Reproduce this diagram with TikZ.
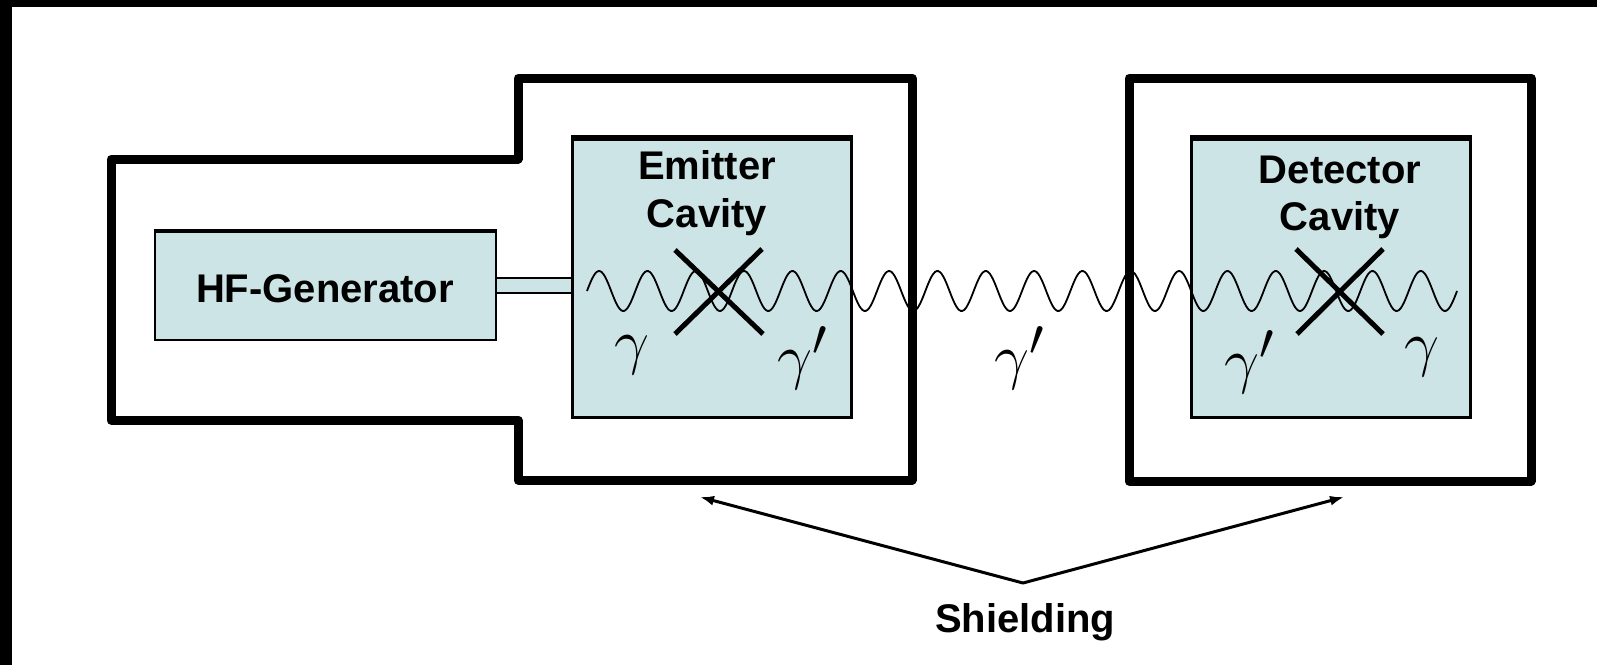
\documentclass[tikz,border=0pt]{standalone}
\usepackage{fontspec}
\setmainfont{Liberation Sans}
\usetikzlibrary{calc,arrows.meta}
\definecolor{cavblue}{RGB}{205,228,230}
\begin{document}
\begin{tikzpicture}[x=1pt,y=-1pt,
  shieldline/.style={line width=9pt, line join=round},
  cavbox/.style={draw=black, fill=cavblue, line width=2.5pt, inner sep=0pt},
  lbl/.style={font=\bfseries\fontsize{40}{48}\selectfont, anchor=base, inner sep=0pt},
  greek/.style={font=\Huge, scale=2.5, inner sep=0pt},
  xline/.style={line width=5pt},
  wavy/.style={line width=1.8pt},
  pointer/.style={line width=3pt, line cap=round, -{Latex[length=14pt,width=10pt]}}]
\useasboundingbox (0,0) rectangle (1597,665);
\fill[white] (0,0) rectangle (1597,665);
\fill[black] (0,0) rectangle (12,665);
\fill[black] (0,0) rectangle (1597,7);

% shields
\draw[shieldline] (111,159) -- (518,159) -- (518,78) -- (912,78) -- (912,480) -- (518,480) -- (518,420) -- (111,420) -- cycle;
\draw[shieldline] (1129,78) rectangle (1531,481);

% boxes
\node[cavbox, minimum width=341, minimum height=109] (hf) at (325.5,285.5) {};
\node[cavbox, minimum width=279, minimum height=280] (emit) at (712,277.5) {};
\node[cavbox, minimum width=279, minimum height=280] (det) at (1331,277.5) {};
\draw[line width=4pt] ([yshift=-0.75pt]hf.north west) -- ([yshift=-0.75pt]hf.north east);
\draw[line width=6pt] ([yshift=-1.75pt]emit.north west) -- ([yshift=-1.75pt]emit.north east);
\draw[line width=6pt] ([yshift=-1.75pt]det.north west) -- ([yshift=-1.75pt]det.north east);

% feed tube
\fill[cavblue] ($(hf.east)+(0,-7.5)$) rectangle ($(hf.east -| emit.west)+(0,7.5)$);
\draw[line width=2.5pt] ($(hf.east)+(0,-7.5)$) -- ($(hf.east -| emit.west)+(0,-7.5)$);
\draw[line width=2.5pt] ($(hf.east)+(0,7.5)$) -- ($(hf.east -| emit.west)+(0,7.5)$);

% wave
\draw[wavy] plot[domain=0:6480, samples=541, smooth] ({587+\x*0.1342593}, {291-20*sin(\x)});

% crosses
\draw[xline] (675,250) -- (763,334);
\draw[xline] (762,249) -- (675,334);
\draw[xline] (1296,249) -- (1383,334);
\draw[xline] (1383,249) -- (1297,334);

% greek labels
\node[greek] (g1) at (632,355) {$\gamma$};
\node[greek] (g2) at (803,358) {$\gamma'$};
\node[greek] (g3) at (1020,358) {$\gamma'$};
\node[greek] (g4) at (1250,362) {$\gamma'$};
\node[greek] (g5) at (1422,357) {$\gamma$};

% texts
\node[lbl] (hflabel) at (325,302) {HF-Generator};
\node[lbl] (emitA) at (707,179) {Emitter};
\node[lbl] (emitB) at (707,227) {Cavity};
\node[lbl] (detA) at (1340,183) {Detector};
\node[lbl] (detB) at (1340,230) {Cavity};
\node[lbl] (shieldlbl) at (1025,632) {Shielding};

% pointers
\coordinate (apex) at (1023,583);
\coordinate (tipL) at (700,497);
\coordinate (tipR) at (1344,497);
\draw[pointer] (apex) -- (tipL);
\draw[pointer] (apex) -- (tipR);
\end{tikzpicture}
\end{document}
